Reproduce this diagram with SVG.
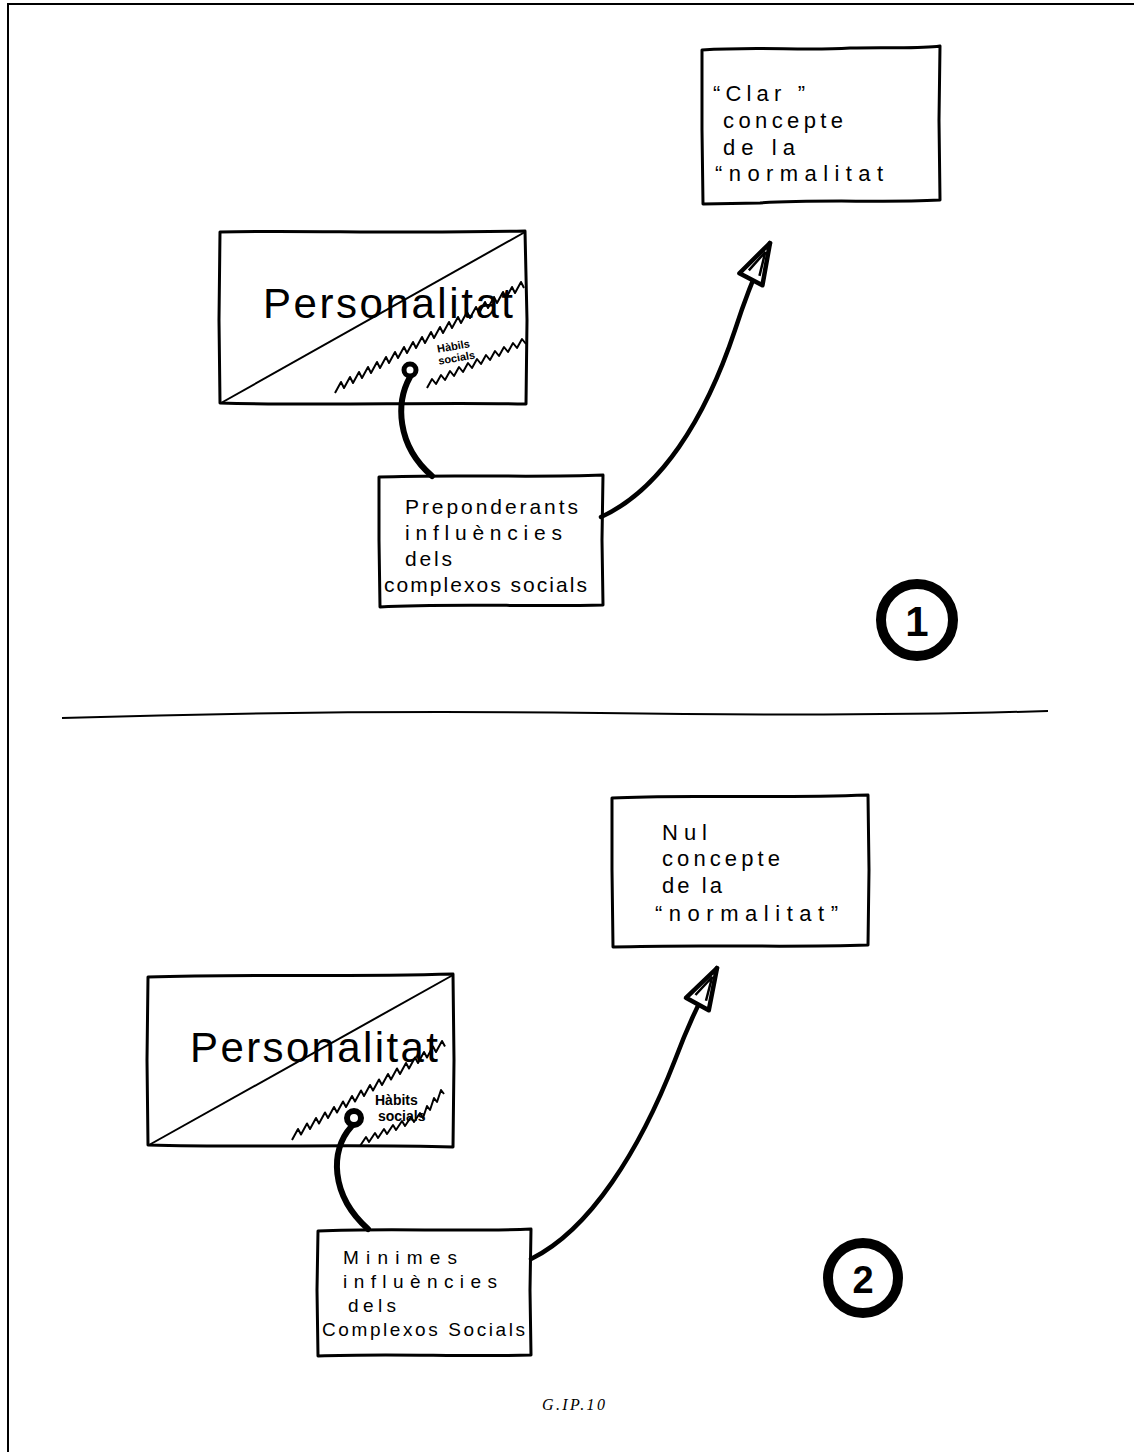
<svg xmlns="http://www.w3.org/2000/svg" width="1134" height="1452" viewBox="0 0 1134 1452">
<style>
  .box { fill: none; stroke: #000; stroke-width: 3; stroke-linejoin: round; }
  .thin { fill: none; stroke: #000; stroke-width: 2; stroke-linejoin: round; }
  .hand { font-family: "Liberation Sans", "DejaVu Sans", sans-serif; font-size: 22px; fill: #000; }
  .big { font-family: "Liberation Sans", "DejaVu Sans", sans-serif; font-size: 42px; fill: #000; }
  .small { font-family: "Liberation Sans", "DejaVu Sans", sans-serif; font-size: 11px; font-weight: bold; fill: #000; }
  .num { font-family: "Liberation Sans", "DejaVu Sans", sans-serif; font-size: 42px; font-weight: bold; fill: #000; }
  .ring { fill: #fff; stroke: #000; stroke-width: 10; }
  .link { fill: none; stroke: #000; stroke-width: 6; stroke-linecap: round; }
  .arrow { fill: none; stroke: #000; stroke-width: 4.5; stroke-linecap: round; }
  .knob { fill: #fff; stroke: #000; stroke-width: 5; }
</style>
<defs>
  <marker id="head" markerUnits="userSpaceOnUse" viewBox="0 0 46 34" refX="44" refY="17" markerWidth="46" markerHeight="34" orient="auto">
    <path d="M3,4 L44,17 L3,30 Z" fill="#fff" stroke="#000" stroke-width="4.5" stroke-linejoin="round"/>
    <path d="M10,11 L34,17 L10,23" fill="none" stroke="#000" stroke-width="2.5"/>
  </marker>
</defs>
<rect x="0" y="0" width="1134" height="1452" fill="#fff"/>
<rect x="8" y="4" width="1140" height="1460" fill="none" stroke="#000" stroke-width="2"/>

<!-- divider -->
<path d="M62,718 C250,712 450,711 600,713 C800,716 950,714 1048,711" class="thin"/>

<g id="connectors">
  <path d="M410,377 C396,402 396,445 432,476" class="link"/>
  <path d="M601,517 C660,490 705,420 735,330 C748,290 760,262 770,243" class="arrow" marker-end="url(#head)"/>
  <path d="M351,1127 C330,1150 330,1195 368,1229" class="link"/>
  <path d="M531,1259 C590,1230 640,1150 675,1060 C690,1020 705,990 717,968" class="arrow" marker-end="url(#head)"/>
</g>

<g id="clar">
  <path d="M702,50 C760,46 800,51 850,48 C890,47 920,49 940,46 L939,120 L940,200 C880,203 820,199 760,203 L703,204 L702,130 Z" class="box"/>
  <text class="hand" x="713" y="101" textLength="92" lengthAdjust="spacing">“Clar ”</text>
  <text class="hand" x="723" y="128" textLength="120" lengthAdjust="spacing">concepte</text>
  <text class="hand" x="723" y="155" textLength="72" lengthAdjust="spacing">de la</text>
  <text class="hand" x="715" y="181" textLength="168" lengthAdjust="spacing">“normalitat</text>
</g>

<g id="personalitat1">
  <path d="M220,232 C300,230 400,234 525,231 L527,320 L526,404 C430,402 320,406 220,403 L219,320 Z" class="box"/>
  <path d="M221,403 L525,232" class="thin"/>
  <text class="big" x="263" y="318" textLength="250" lengthAdjust="spacing">Personalitat</text>
  <path d="M335,393 l6,-11 l3,6 l6,-11 l3,6 l6,-11 l3,6 l6,-11 l3,6 l6,-11 l3,6 l6,-11 l3,6 l6,-11 l3,6 l6,-11 l3,6 l6,-11 l3,6 l6,-11 l3,6 l6,-11 l3,6 l6,-11 l3,6 l6,-11 l3,6 l6,-11 l3,6 l6,-11 l3,6 l6,-11 l3,6 l6,-11 l3,6 l6,-11 l3,6 l6,-11 l3,6 l6,-11 l3,6 l6,-11 l3,6" class="thin"/>
  <path d="M427,388 l5,-9 l4,5 l5,-9 l4,5 l5,-9 l4,5 l5,-9 l4,5 l5,-9 l4,5 l5,-9 l4,5 l5,-9 l4,5 l5,-9 l4,5 l5,-9 l4,5 l5,-9 l4,5 l5,-9 l4,5" class="thin"/>
  <g transform="rotate(-10 460 352)">
    <text class="small" x="438" y="349">Hàbils</text>
    <text class="small" x="437" y="361">socials</text>
  </g>
  <circle cx="410" cy="370" r="6" class="knob"/>
</g>

<g id="preponderants">
  <path d="M379,477 C450,474 530,478 603,475 L602,540 L603,605 C530,607 450,603 380,607 L379,540 Z" class="box"/>
  <text class="hand" x="405" y="514" textLength="173" lengthAdjust="spacing" style="font-size:21px">Preponderants</text>
  <text class="hand" x="405" y="540" textLength="157" lengthAdjust="spacing" style="font-size:21px">influències</text>
  <text class="hand" x="405" y="566" textLength="47" lengthAdjust="spacing" style="font-size:21px">dels</text>
  <text class="hand" x="384" y="592" textLength="203" lengthAdjust="spacing" style="font-size:21px">complexos socials</text>
</g>

<g id="num1">
  <circle cx="917" cy="620" r="36" class="ring"/>
  <text class="num" x="917" y="636" text-anchor="middle">1</text>
</g>

<g id="nul">
  <path d="M612,798 C680,794 760,799 868,795 L869,870 L868,945 C780,948 700,944 613,947 L612,870 Z" class="box"/>
  <text class="hand" x="662" y="840" textLength="45" lengthAdjust="spacing">Nul</text>
  <text class="hand" x="662" y="866" textLength="118" lengthAdjust="spacing">concepte</text>
  <text class="hand" x="662" y="893" textLength="60" lengthAdjust="spacing">de la</text>
  <text class="hand" x="655" y="921" textLength="183" lengthAdjust="spacing">“normalitat”</text>
</g>

<g id="personalitat2">
  <path d="M148,977 C250,974 350,977 453,974 L454,1060 L453,1147 C350,1144 250,1148 148,1145 L147,1060 Z" class="box"/>
  <path d="M149,1145 L453,975" class="thin"/>
  <text class="big" x="190" y="1062" textLength="248" lengthAdjust="spacing">Personalitat</text>
  <path d="M292,1140 l6,-11 l3,5.5 l6,-11 l3,5.5 l6,-11 l3,5.5 l6,-11 l3,5.5 l6,-11 l3,5.5 l6,-11 l3,5.5 l6,-11 l3,5.5 l6,-11 l3,5.5 l6,-11 l3,5.5 l6,-11 l3,5.5 l6,-11 l3,5.5 l6,-11 l3,5.5 l6,-11 l3,5.5 l6,-11 l3,5.5 l6,-11 l3,5.5 l6,-11 l3,5.5 l6,-11 l3,5.5" class="thin"/>
  <path d="M360,1146 l6,-9 l3,5 l6,-9 l3,5 l6,-9 l3,5 l6,-9 l3,5 l6,-9 l3,5 l6,-9 l3,5 l6,-9 l3,5 l4,-12 l3,4 l4,-12 l3,4 l4,-12 l3,4" class="thin"/>
  <text class="small" x="375" y="1105" style="font-size:14px">Hàbits</text>
  <text class="small" x="378" y="1121" style="font-size:14px">socials</text>
  <circle cx="354" cy="1118" r="7" class="knob" style="stroke-width:6"/>
</g>

<g id="minimes">
  <path d="M318,1231 C390,1228 460,1232 531,1229 L530,1290 L531,1355 C460,1357 390,1353 318,1356 L317,1290 Z" class="box"/>
  <text class="hand" x="343" y="1264" textLength="114" lengthAdjust="spacing" style="font-size:19px">Minimes</text>
  <text class="hand" x="343" y="1288" textLength="154" lengthAdjust="spacing" style="font-size:19px">influències</text>
  <text class="hand" x="348" y="1312" textLength="48" lengthAdjust="spacing" style="font-size:19px">dels</text>
  <text class="hand" x="322" y="1336" textLength="203" lengthAdjust="spacing" style="font-size:19px">Complexos Socials</text>
</g>

<g id="num2">
  <circle cx="863" cy="1278" r="35" class="ring"/>
  <text class="num" x="863" y="1293" text-anchor="middle" style="font-size:38px">2</text>
</g>

<text x="542" y="1410" font-family="Liberation Serif, serif" font-style="italic" font-size="16" textLength="63" lengthAdjust="spacing">G.IP.10</text>
</svg>
